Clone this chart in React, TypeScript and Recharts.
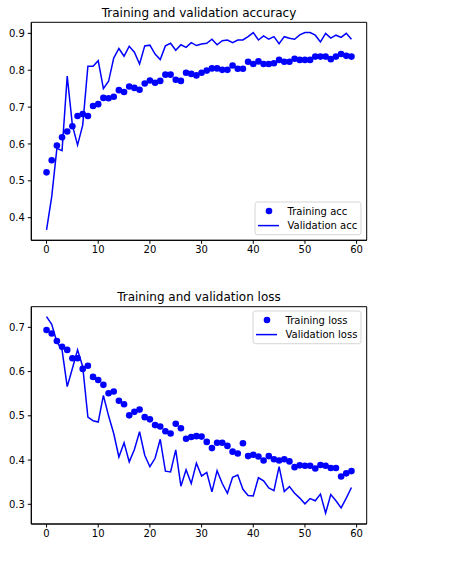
import React from "react";
import { ComposedChart, Line, ReferenceArea, XAxis, YAxis } from "recharts";

const epochs = [
  0, 1, 2, 3, 4, 5, 6, 7, 8, 9, 10, 11, 12, 13, 14, 15, 16, 17, 18, 19,
  20, 21, 22, 23, 24, 25, 26, 27, 28, 29, 30, 31, 32, 33, 34, 35, 36, 37, 38, 39,
  40, 41, 42, 43, 44, 45, 46, 47, 48, 49, 50, 51, 52, 53, 54, 55, 56, 57, 58, 59,
];

const trainAcc = [
  0.523, 0.556, 0.596, 0.618, 0.634, 0.648, 0.676, 0.681, 0.676, 0.703,
  0.708, 0.725, 0.724, 0.728, 0.746, 0.741, 0.756, 0.752, 0.747, 0.764,
  0.772, 0.766, 0.771, 0.788, 0.788, 0.774, 0.771, 0.793, 0.79, 0.786,
  0.793, 0.799, 0.805, 0.805, 0.801, 0.801, 0.813, 0.804, 0.804, 0.823,
  0.817, 0.824, 0.817, 0.817, 0.819, 0.828, 0.823, 0.823, 0.831, 0.828,
  0.828, 0.828, 0.837, 0.837, 0.837, 0.83, 0.837, 0.844, 0.839, 0.837,
];

const valAcc = [
  0.367, 0.457, 0.588, 0.582, 0.784, 0.651, 0.597, 0.651, 0.811, 0.811,
  0.826, 0.75, 0.77, 0.833, 0.859, 0.838, 0.865, 0.849, 0.817, 0.866,
  0.868, 0.844, 0.829, 0.866, 0.873, 0.854, 0.869, 0.862, 0.875, 0.867,
  0.871, 0.873, 0.884, 0.869, 0.88, 0.882, 0.875, 0.882, 0.882, 0.891,
  0.902, 0.882, 0.893, 0.884, 0.891, 0.872, 0.891, 0.887, 0.884, 0.896,
  0.902, 0.902, 0.895, 0.877, 0.9, 0.887, 0.895, 0.889, 0.9, 0.884,
];

const trainLoss = [
  0.694, 0.686, 0.669, 0.656, 0.649, 0.63, 0.63, 0.606, 0.613, 0.588,
  0.581, 0.57, 0.551, 0.555, 0.534, 0.526, 0.501, 0.509, 0.514, 0.497,
  0.492, 0.479, 0.476, 0.465, 0.46, 0.482, 0.472, 0.448, 0.452, 0.454,
  0.453, 0.441, 0.427, 0.439, 0.439, 0.432, 0.419, 0.415, 0.438, 0.409,
  0.412, 0.408, 0.399, 0.409, 0.402, 0.399, 0.402, 0.397, 0.384, 0.388,
  0.387, 0.387, 0.381, 0.389, 0.387, 0.382, 0.382, 0.363, 0.37, 0.375,
];

const valLoss = [
  0.724, 0.707, 0.667, 0.649, 0.566, 0.607, 0.649, 0.611, 0.497, 0.489,
  0.486, 0.546, 0.5, 0.46, 0.407, 0.439, 0.396, 0.424, 0.464, 0.411,
  0.385, 0.404, 0.447, 0.375, 0.373, 0.423, 0.341, 0.378, 0.347, 0.393,
  0.364, 0.372, 0.328, 0.376, 0.347, 0.325, 0.361, 0.366, 0.334, 0.32,
  0.319, 0.36, 0.353, 0.337, 0.331, 0.385, 0.329, 0.34, 0.325, 0.314,
  0.301, 0.313, 0.308, 0.323, 0.28, 0.322, 0.308, 0.292, 0.314, 0.338,
];

const xTicks = [0, 10, 20, 30, 40, 50, 60];
const accTicks = [0.4, 0.5, 0.6, 0.7, 0.8, 0.9];
const lossTicks = [0.3, 0.4, 0.5, 0.6, 0.7];

const FONT = "'DejaVu Sans', sans-serif";
const BLUE = "#0000ff";
const X_DOMAIN: [number, number] = [-2.95, 61.95];

const accData = epochs.map((e, i) => ({
  epoch: e,
  train: trainAcc[i],
  val: valAcc[i],
}));

const lossData = epochs.map((e, i) => ({
  epoch: e,
  train: trainLoss[i],
  val: valLoss[i],
}));

const tickStyle = { fill: "#000", fontSize: 10, fontFamily: FONT };

function Panel({
  data,
  domain,
  ticks,
  marginTop,
  marginBottom,
}: {
  data: { epoch: number; train: number; val: number }[];
  domain: [number, number];
  ticks: number[];
  marginTop: number;
  marginBottom: number;
}) {
  return (
    <ComposedChart
      width={469}
      height={270}
      data={data}
      margin={{ top: marginTop, right: 102.3, left: 0, bottom: marginBottom }}
    >
      <XAxis
        dataKey="epoch"
        type="number"
        domain={X_DOMAIN}
        ticks={xTicks}
        interval={0}
        allowDataOverflow
        height={20}
        tickSize={3.5}
        tickMargin={2.5}
        stroke="#000"
        tick={tickStyle}
      />
      <YAxis
        type="number"
        domain={domain}
        ticks={ticks}
        interval={0}
        allowDataOverflow
        width={31.3}
        tickSize={3.5}
        tickMargin={3}
        stroke="#000"
        tick={tickStyle}
        tickFormatter={(v: number) => v.toFixed(1)}
      />
      {/* axes frame (matplotlib spines) */}
      <ReferenceArea
        x1={X_DOMAIN[0]}
        x2={X_DOMAIN[1]}
        y1={domain[0]}
        y2={domain[1]}
        fill="none"
        fillOpacity={0}
        stroke="#000"
        strokeWidth={1}
        strokeOpacity={1}
        ifOverflow="visible"
      />
      <Line
        dataKey="train"
        type="linear"
        stroke="none"
        dot={{ r: 3.3, fill: BLUE, stroke: "none" }}
        activeDot={false}
        isAnimationActive={false}
      />
      <Line
        dataKey="val"
        type="linear"
        stroke={BLUE}
        strokeWidth={1.5}
        dot={false}
        activeDot={false}
        isAnimationActive={false}
      />
    </ComposedChart>
  );
}

function LegendBox({
  left,
  top,
  width,
  labels,
}: {
  left: number;
  top: number;
  width: number;
  labels: [string, string];
}) {
  return (
    <svg
      width={width + 2}
      height={35}
      style={{ position: "absolute", left: left - 1, top: top - 1 }}
    >
      <rect
        x={1}
        y={1}
        width={width}
        height={32.7}
        rx={2.5}
        fill="#fff"
        fillOpacity={0.8}
        stroke="#d5d5d5"
        strokeWidth={1}
      />
      <circle cx={15} cy={10} r={3.3} fill={BLUE} />
      <line x1={4} x2={25} y1={24.6} y2={24.6} stroke={BLUE} strokeWidth={1.5} />
      <text x={33.5} y={10} dominantBaseline="central" fontSize={10} fontFamily={FONT} fill="#000">
        {labels[0]}
      </text>
      <text x={33.5} y={24.6} dominantBaseline="central" fontSize={10} fontFamily={FONT} fill="#000">
        {labels[1]}
      </text>
    </svg>
  );
}

const titleStyle: React.CSSProperties = {
  position: "absolute",
  left: 31.3,
  width: 335.4,
  textAlign: "center",
  fontFamily: FONT,
  fontSize: 12,
  lineHeight: "14px",
  color: "#000",
};

export default function App() {
  return (
    <div
      style={{
        position: "absolute",
        left: 0,
        top: 0,
        width: 469,
        height: 566,
        background: "#fff",
      }}
    >
      <div style={{ ...titleStyle, top: 6 }}>Training and validation accuracy</div>
      <div style={{ position: "absolute", left: 0, top: 0 }}>
        <Panel
          data={accData}
          domain={[0.3387, 0.93]}
          ticks={accTicks}
          marginTop={22.3}
          marginBottom={9.7}
        />
      </div>
      <LegendBox
        left={255.3}
        top={202.3}
        width={106}
        labels={["Training acc", "Validation acc"]}
      />

      <div style={{ ...titleStyle, top: 290 }}>Training and validation loss</div>
      <div style={{ position: "absolute", left: 0, top: 280 }}>
        <Panel
          data={lossData}
          domain={[0.2555, 0.7466]}
          ticks={lossTicks}
          marginTop={26.7}
          marginBottom={6}
        />
      </div>
      <LegendBox
        left={253.3}
        top={311.3}
        width={108}
        labels={["Training loss", "Validation loss"]}
      />
    </div>
  );
}
